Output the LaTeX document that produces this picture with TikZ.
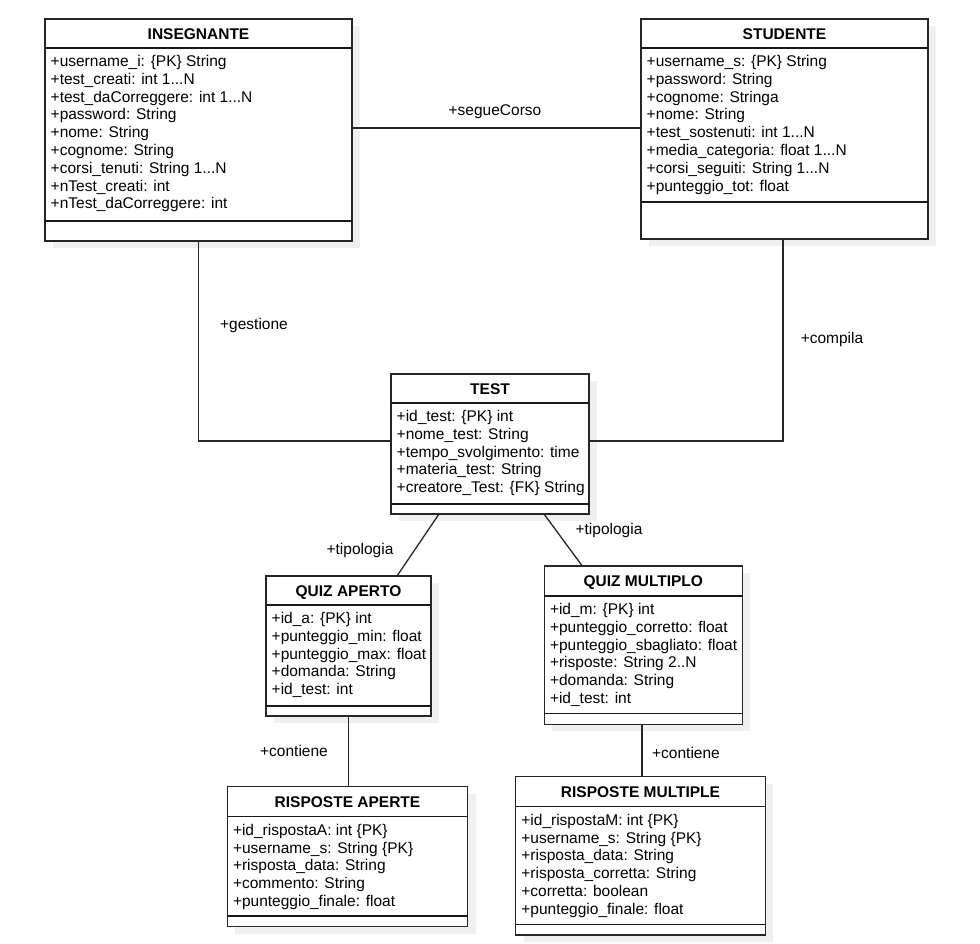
\documentclass[tikz,border=0pt]{standalone}
\usepackage{fontspec}
\setmainfont{Liberation Sans}
\tikzset{
  classbox/.style={draw=black!85, line width=1.3pt, fill=white, inner sep=0pt, outer sep=0pt},
  shadowfill/.style={fill=black!6},
  classline/.style={draw=black!90, line width=1.3pt},
  conn/.style={draw=black!85, line width=1.3pt},
  titletext/.style={font=\fontsize{15.5}{17.8}\selectfont\bfseries, inner sep=0pt, anchor=base},
  attrtext/.style={font=\fontsize{15.5}{17.8}\selectfont, inner sep=0pt, anchor=base west},
  lbl/.style={font=\fontsize{15.5}{17.8}\selectfont, inner sep=0pt, anchor=base}
}
% #1 name, #2 left, #3 top, #4 right, #5 header line, #6 separator, #7 bottom, #8 title, #9 attributes
\newcommand{\umlclass}[9]{%
  \fill[shadowfill] ({#2+8},{#3+7}) rectangle ({#4+8},{#7+7});
  \node[classbox, minimum width={#4-#2}, minimum height={#7-#3}, anchor=north west] (#1) at (#2,#3) {};
  \draw[classline] (#2,#5) -- (#4,#5);
  \draw[classline] (#2,#6) -- (#4,#6);
  \node[titletext] (#1-title) at ({(#2+#4)/2},{(#3+#5)/2+5.5}) {#8};
  \foreach \a [count=\i] in {#9} {
    \node[attrtext] (#1-a\i) at ({#2+5.5},{#5+18.5+(\i-1)*17.8}) {\a};
  }
}
\begin{document}
\begin{tikzpicture}[x=1pt,y=-1pt]
\useasboundingbox[fill=white] (0,0) rectangle (980,943);

\umlclass{ins}{45}{19}{352}{48}{221}{241}{INSEGNANTE}{%
  {+username\_i: \{PK\} String},{+test\_creati: int 1..{}.N},{+test\_daCorreggere: int 1..{}.N},%
  {+password: String},{+nome: String},{+cognome: String},{+corsi\_tenuti: String 1..{}.N},%
  {+nTest\_creati: int},{+nTest\_daCorreggere: int}}

\umlclass{stu}{641}{19}{928}{48}{202}{239}{STUDENTE}{%
  {+username\_s: \{PK\} String},{+password: String},{+cognome: Stringa},{+nome: String},%
  {+test\_sostenuti: int 1..{}.N},{+media\_categoria: float 1..{}.N},{+corsi\_seguiti: String 1..{}.N},%
  {+punteggio\_tot: float}}

\umlclass{test}{391}{374}{589}{403}{504}{514}{TEST}{%
  {+id\_test: \{PK\} int},{+nome\_test: String},{+tempo\_svolgimento: time},%
  {+materia\_test: String},{+creatore\_Test: \{FK\} String}}

\umlclass{qa}{266}{576}{431}{605}{706}{716}{QUIZ APERTO}{%
  {+id\_a: \{PK\} int},{+punteggio\_min: float},{+punteggio\_max: float},%
  {+domanda: String},{+id\_test: int}}

\umlclass{qm}{544.3}{566}{742.3}{596}{713.5}{724.3}{QUIZ MULTIPLO}{%
  {+id\_m: \{PK\} int},{+punteggio\_corretto: float},{+punteggio\_sbagliato: float},%
  {+risposte: String 2.{}.N},{+domanda: String},{+id\_test: int}}

\umlclass{ra}{227.3}{786.7}{467.7}{816.7}{916}{926.7}{RISPOSTE APERTE}{%
  {+id\_rispostaA: int \{PK\}},{+username\_s: String \{PK\}},{+risposta\_data: String},%
  {+commento: String},{+punteggio\_finale: float}}

\umlclass{rm}{515.7}{776.7}{765.3}{806.7}{924.3}{935}{RISPOSTE MULTIPLE}{%
  {+id\_rispostaM: int \{PK\}},{+username\_s: String \{PK\}},{+risposta\_data: String},%
  {+risposta\_corretta: String},{+corretta: boolean},{+punteggio\_finale: float}}

% connectors
\draw[conn] ([yshift=2pt]ins.east) -- ([yshift=2pt]ins.east -| stu.west);
\draw[conn] (ins.south) |- ([yshift=3pt]test.west);
\draw[conn] ([xshift=-1.5pt]stu.south) |- ([yshift=3pt]test.east);
\draw[conn] ([xshift=-51pt]test.south) -- ([xshift=48.5pt]qa.north);
\draw[conn] ([xshift=54pt]test.south) -- ([xshift=-61pt]qm.north);
\draw[conn] (qa.south) -- (qa.south |- ra.north);
\draw[conn] ([xshift=-1.3pt]qm.south) -- ([xshift=-1.3pt]qm.south |- rm.north);

% labels
\node[lbl] (l-segue) at (495,115) {+segueCorso};
\node[lbl] (l-gest) at (254,329) {+gestione};
\node[lbl] (l-comp) at (832,343) {+compila};
\node[lbl] (l-tip1) at (360,554) {+tipologia};
\node[lbl] (l-tip2) at (609,534) {+tipologia};
\node[lbl] (l-cont1) at (294,756) {+contiene};
\node[lbl] (l-cont2) at (686,758) {+contiene};
\end{tikzpicture}
\end{document}
